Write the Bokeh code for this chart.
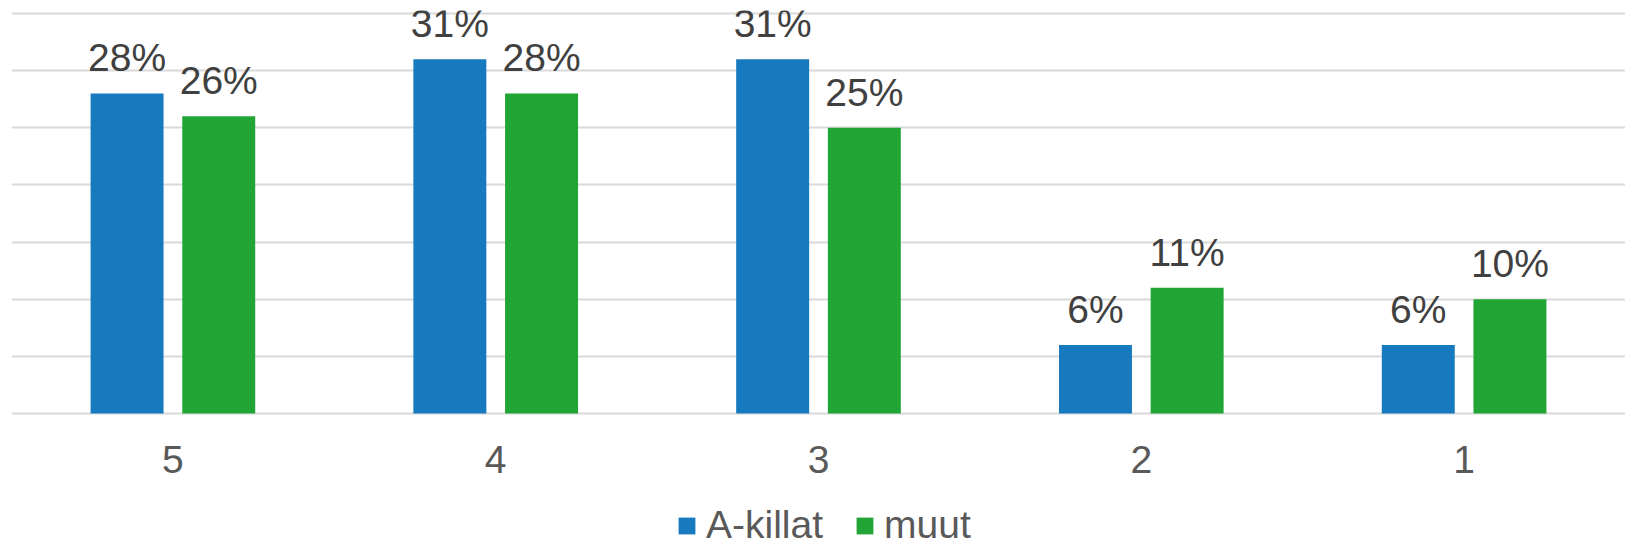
from bokeh.plotting import figure
from bokeh.models import ColumnDataSource, FactorRange, Range1d, FixedTicker, LabelSet, Legend, LegendItem
from bokeh.transform import dodge
from bokeh.core.properties import value
from bokeh.embed import file_html
from bokeh.resources import INLINE

categories = ["5", "4", "3", "2", "1"]
a_killat = [28, 31, 31, 6, 6]
muut = [26, 28, 25, 11, 10]
series_names = ["A-killat", "muut"]
y_ticks = [0, 5, 10, 15, 20, 25, 30, 35]

BLUE = "#1779BE"
GREEN = "#21A535"
FONT = "Liberation Sans"
FS = "39px"

src = ColumnDataSource(dict(
    cat=categories,
    a=a_killat,
    m=muut,
    a_lbl=[f"{v}%" for v in a_killat],
    m_lbl=[f"{v}%" for v in muut],
))

p = figure(x_range=FactorRange(*categories, range_padding=0),
           y_range=Range1d(-11.64, 35.26),
           width=1625, height=546,
           min_border_left=11, min_border_right=0, min_border_top=10, min_border_bottom=0,
           output_backend="svg", toolbar_location=None)

off = 0.142
w = 0.226
r1 = p.vbar(x=dodge("cat", -off, range=p.x_range), top="a", bottom=0, width=w, source=src,
            fill_color=BLUE, line_color=None)
r2 = p.vbar(x=dodge("cat", off, range=p.x_range), top="m", bottom=0, width=w, source=src,
            fill_color=GREEN, line_color=None)

for xo, fld, yf in [(-off, "a_lbl", "a"), (off, "m_lbl", "m")]:
    p.add_layout(LabelSet(x=dodge("cat", xo, range=p.x_range), y=yf,
                          text=fld, source=src, text_align="center", text_baseline="alphabetic",
                          y_offset=22, text_font=value(FONT), text_font_size=FS,
                          text_color="#404040"))

p.yaxis.visible = False
p.yaxis.ticker = FixedTicker(ticks=y_ticks)
p.ygrid.grid_line_color = "#d9d9d9"
p.ygrid.grid_line_width = 2
p.xgrid.visible = False

p.xaxis.fixed_location = 0
p.xaxis.axis_line_color = None
p.xaxis.major_tick_line_color = None
p.xaxis.minor_tick_line_color = None
p.xaxis.major_label_text_font = FONT
p.xaxis.major_label_text_font_size = FS
p.xaxis.major_label_text_color = "#595959"
p.xaxis.major_label_standoff = 27

p.outline_line_color = None

legend = Legend(items=[LegendItem(label=series_names[0], renderers=[r1]),
                       LegendItem(label=series_names[1], renderers=[r2])],
                orientation="horizontal", location=(665, -1),
                glyph_width=21, glyph_height=21, label_standoff=9, spacing=31,
                label_text_font=FONT, label_text_font_size=FS, label_text_color="#595959",
                padding=0, margin=0, border_line_color=None, background_fill_alpha=0)
p.add_layout(legend, "center")

open("out.html", "w").write(file_html(p, INLINE))
